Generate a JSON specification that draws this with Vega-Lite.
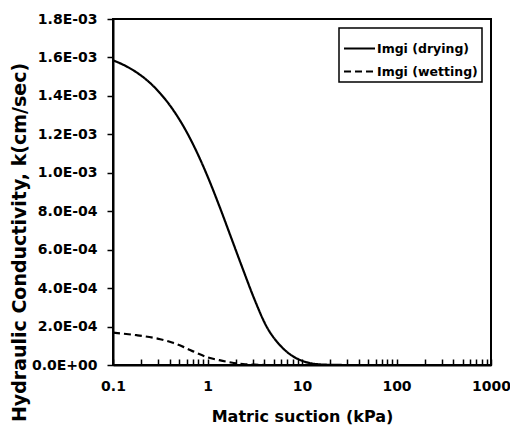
{
  "$schema": "https://vega.github.io/schema/vega-lite/v6.json",
  "autosize": "none",
  "width": 378,
  "height": 346,
  "padding": {"left": 113, "top": 19, "right": 19, "bottom": 62},
  "background": "white",
  "config": {
    "font": "DejaVu Sans",
    "view": {"stroke": "black", "strokeWidth": 2},
    "axis": {
      "domainColor": "black", "domainWidth": 2, "tickColor": "black", "tickWidth": 1.5,
      "labelColor": "black", "titleColor": "black", "labelFont": "DejaVu Sans", "titleFont": "DejaVu Sans",
      "labelFontWeight": "bold", "titleFontWeight": "bold", "grid": false
    },
    "legend": {
      "orient": "top-right", "offset": 9, "padding": 4, "strokeColor": "black", "strokeWidth": 1.5,
      "fillColor": "white", "labelFont": "DejaVu Sans", "labelFontWeight": "bold", "labelFontSize": 12.5,
      "labelColor": "black", "symbolType": "stroke", "symbolStrokeWidth": 2, "symbolSize": 961,
      "symbolStrokeColor": "black", "labelOffset": 1, "rowPadding": -2
    }
  },
  "data": {"values": [
    {"series": "Imgi (drying)", "suction": 0.1, "k": 0.001585},
    {"series": "Imgi (drying)", "suction": 0.1334, "k": 0.001558},
    {"series": "Imgi (drying)", "suction": 0.1778, "k": 0.001522},
    {"series": "Imgi (drying)", "suction": 0.2371, "k": 0.001475},
    {"series": "Imgi (drying)", "suction": 0.3162, "k": 0.001413},
    {"series": "Imgi (drying)", "suction": 0.4217, "k": 0.001335},
    {"series": "Imgi (drying)", "suction": 0.5623, "k": 0.001238},
    {"series": "Imgi (drying)", "suction": 0.7499, "k": 0.00112},
    {"series": "Imgi (drying)", "suction": 1.0, "k": 0.000982},
    {"series": "Imgi (drying)", "suction": 1.334, "k": 0.000827},
    {"series": "Imgi (drying)", "suction": 1.778, "k": 0.000663},
    {"series": "Imgi (drying)", "suction": 2.371, "k": 0.000498},
    {"series": "Imgi (drying)", "suction": 3.162, "k": 0.000338},
    {"series": "Imgi (drying)", "suction": 4.217, "k": 0.0002},
    {"series": "Imgi (drying)", "suction": 5.623, "k": 0.000112},
    {"series": "Imgi (drying)", "suction": 7.499, "k": 0.000055},
    {"series": "Imgi (drying)", "suction": 10, "k": 0.000022},
    {"series": "Imgi (drying)", "suction": 14.13, "k": 0.000005},
    {"series": "Imgi (drying)", "suction": 19.95, "k": 0.000001},
    {"series": "Imgi (drying)", "suction": 31.62, "k": 0},
    {"series": "Imgi (drying)", "suction": 1000, "k": 0},
    {"series": "Imgi (wetting)", "suction": 0.1, "k": 0.000168},
    {"series": "Imgi (wetting)", "suction": 0.1778, "k": 0.000155},
    {"series": "Imgi (wetting)", "suction": 0.3162, "k": 0.000134},
    {"series": "Imgi (wetting)", "suction": 0.4217, "k": 0.000117},
    {"series": "Imgi (wetting)", "suction": 0.5623, "k": 0.000093},
    {"series": "Imgi (wetting)", "suction": 0.7499, "k": 0.000065},
    {"series": "Imgi (wetting)", "suction": 1.0, "k": 0.000040},
    {"series": "Imgi (wetting)", "suction": 1.334, "k": 0.000025},
    {"series": "Imgi (wetting)", "suction": 1.778, "k": 0.000013},
    {"series": "Imgi (wetting)", "suction": 2.371, "k": 0.000005},
    {"series": "Imgi (wetting)", "suction": 3.162, "k": 0.0000015},
    {"series": "Imgi (wetting)", "suction": 4.217, "k": 0}
  ]},
  "mark": {"type": "line", "color": "black", "strokeWidth": 2.2, "interpolate": "monotone"},
  "encoding": {
    "x": {
      "field": "suction", "type": "quantitative",
      "scale": {"type": "log", "domain": [0.1, 1000]},
      "axis": {
        "title": "Matric suction (kPa)", "titleFontSize": 16, "titleBaseline": "top", "titleY": 43,
        "labelFontSize": 14, "tickSize": -6, "labelPadding": 20, "labelOverlap": false, "labelFlush": false,
        "values": [0.1,0.2,0.3,0.4,0.5,0.6,0.7,0.8,0.9,1,2,3,4,5,6,7,8,9,10,20,30,40,50,60,70,80,90,100,200,300,400,500,600,700,800,900,1000],
        "labelExpr": "abs(log(datum.value)/LN10 - round(log(datum.value)/LN10)) < 1e-6 ? format(datum.value, '~g') : ''"
      }
    },
    "y": {
      "field": "k", "type": "quantitative",
      "scale": {"domain": [0, 0.0018], "nice": false},
      "axis": {
        "title": "Hydraulic Conductivity, k(cm/sec)", "titleFontSize": 19, "titleAngle": -90,
        "titleAlign": "center", "titleBaseline": "middle", "titleX": -94, "titleY": 223,
        "labelFontSize": 14, "tickSize": 6, "labelPadding": 10,
        "values": [0, 0.0002, 0.0004, 0.0006, 0.0008, 0.001, 0.0012, 0.0014, 0.0016, 0.0018],
        "labelExpr": "datum.value == 0 ? '0.0E+00' : format(datum.value / pow(10, floor(log(datum.value)/LN10 + 1e-9)), '.1f') + 'E-0' + (-floor(log(datum.value)/LN10 + 1e-9))"
      }
    },
    "strokeDash": {
      "field": "series", "type": "nominal",
      "scale": {"domain": ["Imgi (drying)", "Imgi (wetting)"], "range": [[1, 0], [7, 4]]},
      "legend": {"title": null}
    }
  }
}
